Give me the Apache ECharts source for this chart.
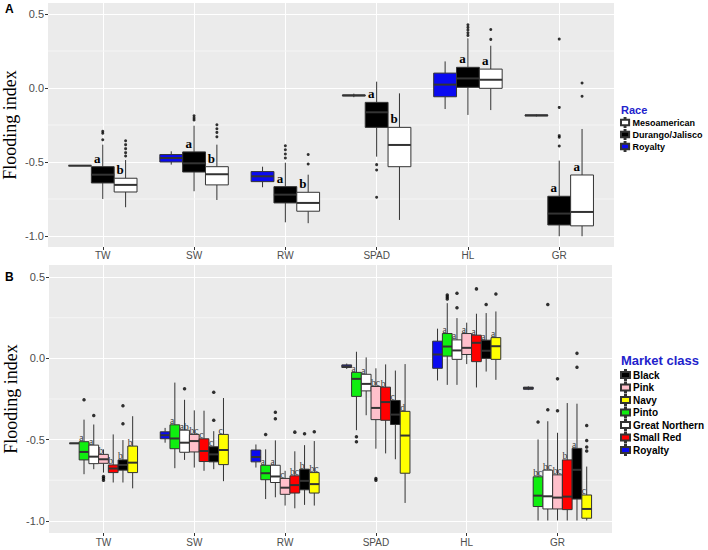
<!DOCTYPE html>
<html><head><meta charset="utf-8">
<script src="https://cdn.jsdelivr.net/npm/echarts@6/dist/echarts.min.js"></script>
<style>html,body{margin:0;padding:0;background:#fff}#main{width:708px;height:550px}</style>
</head><body><div id="main"></div>
<script>
// ---------- shared axes ----------
const categories = ['TW', 'SW', 'RW', 'SPAD', 'HL', 'GR'];
const yTickValues = [-1.0, -0.5, 0.0, 0.5];
const yMinorValues = [-0.75, -0.25, 0.25];

// ---------- Panel A (Race) : [lowerWhisker, Q1, median, Q3, upperWhisker] ----------
const raceNames = ['Royalty', 'Durango/Jalisco', 'Mesoamerican'];
const raceLegendOrder = ['Mesoamerican', 'Durango/Jalisco', 'Royalty'];
const royaltyA = [
  [-0.525, -0.525, -0.525, -0.525, -0.525],
  [-0.518, -0.500, -0.473, -0.450, -0.428],
  [-0.671, -0.633, -0.597, -0.565, -0.532],
  [-0.062, -0.053, -0.050, -0.047, -0.038],
  [-0.142, -0.059, 0.023, 0.101, 0.180],
  [-0.192, -0.188, -0.185, -0.182, -0.178]
];
const durangoA = [
  [-0.750, -0.642, -0.586, -0.532, -0.383],
  [-0.698, -0.568, -0.509, -0.432, -0.255],
  [-0.908, -0.777, -0.721, -0.667, -0.505],
  [-0.464, -0.266, -0.164, -0.097, 0.043],
  [-0.182, 0.005, 0.065, 0.140, 0.336],
  [-1.002, -0.926, -0.849, -0.732, -0.491]
];
const mesoA = [
  [-0.806, -0.703, -0.655, -0.610, -0.487],
  [-0.757, -0.655, -0.583, -0.532, -0.383],
  [-0.914, -0.833, -0.777, -0.705, -0.586],
  [-0.892, -0.532, -0.385, -0.266, -0.036],
  [-0.149, -0.002, 0.056, 0.128, 0.286],
  [-1.002, -0.932, -0.838, -0.588, -0.277]
];
const royaltyAOut = [[], [], [], [], [], []];
const durangoAOut = [
  [-0.293, -0.306, -0.350],
  [-0.187, -0.203, -0.216],
  [-0.390, -0.417, -0.446, -0.473],
  [-0.518, -0.554, -0.739],
  [0.428, 0.410, 0.392, 0.374, 0.356],
  [0.331, -0.131, -0.322, -0.333, -0.392]
];
const mesoAOut = [
  [-0.356, -0.383, -0.410, -0.437, -0.460],
  [-0.248, -0.275, -0.300, -0.330],
  [-0.450, -0.514],
  [],
  [0.396, 0.329],
  [0.034, -0.056]
];
const royaltyALetters = ['', '', '', '', '', ''];
const durangoALetters = ['a', 'a', 'a', 'a', 'a', 'a'];
const mesoALetters = ['b', 'b', 'b', 'b', 'a', 'a'];

// ---------- Panel B (Market class) ----------
const classNames = ['Royalty', 'Pinto', 'Great Northern', 'Pink', 'Small Red', 'Black', 'Navy'];
const classLegendOrder = ['Black', 'Pink', 'Navy', 'Pinto', 'Great Northern', 'Small Red', 'Royalty'];
const royaltyB = [
  [-0.523, -0.523, -0.523, -0.523, -0.523],
  [-0.519, -0.495, -0.473, -0.452, -0.428],
  [-0.672, -0.637, -0.607, -0.564, -0.530],
  [-0.065, -0.056, -0.049, -0.040, -0.032],
  [-0.136, -0.061, 0.024, 0.106, 0.183],
  [-0.195, -0.190, -0.183, -0.177, -0.172]
];
const pintoB = [
  [-0.713, -0.625, -0.576, -0.513, -0.377],
  [-0.676, -0.556, -0.493, -0.409, -0.149],
  [-0.866, -0.747, -0.707, -0.658, -0.560],
  [-0.442, -0.234, -0.126, -0.086, 0.041],
  [-0.163, 0.014, 0.073, 0.153, 0.340],
  [-0.998, -0.912, -0.845, -0.729, -0.499]
];
const greatNorthernB = [
  [-0.682, -0.648, -0.605, -0.534, -0.407],
  [-0.625, -0.578, -0.519, -0.442, -0.255],
  [-0.855, -0.764, -0.727, -0.658, -0.505],
  [-0.350, -0.200, -0.157, -0.098, 0.006],
  [-0.163, -0.006, 0.049, 0.114, 0.248],
  [-0.998, -0.927, -0.849, -0.688, -0.387]
];
const pinkB = [
  [-0.703, -0.646, -0.621, -0.591, -0.560],
  [-0.672, -0.576, -0.509, -0.468, -0.320],
  [-0.906, -0.837, -0.796, -0.739, -0.692],
  [-0.556, -0.377, -0.305, -0.173, -0.061],
  [-0.035, 0.024, 0.065, 0.153, 0.220],
  [-0.998, -0.927, -0.857, -0.717, -0.458]
];
const smallRedB = [
  [-0.764, -0.703, -0.678, -0.656, -0.468],
  [-0.692, -0.635, -0.570, -0.495, -0.322],
  [-0.923, -0.829, -0.780, -0.723, -0.572],
  [-0.585, -0.381, -0.269, -0.177, -0.037],
  [-0.179, -0.020, 0.096, 0.143, 0.275],
  [-0.998, -0.931, -0.851, -0.625, -0.275]
];
const blackB = [
  [-0.764, -0.688, -0.656, -0.625, -0.503],
  [-0.682, -0.637, -0.591, -0.544, -0.448],
  [-0.902, -0.809, -0.754, -0.682, -0.534],
  [-0.621, -0.407, -0.346, -0.259, -0.075],
  [-0.081, 0.000, 0.047, 0.112, 0.279],
  [-0.998, -0.866, -0.686, -0.554, -0.279]
];
const navyB = [
  [-0.800, -0.703, -0.642, -0.540, -0.356],
  [-0.756, -0.654, -0.564, -0.468, -0.244],
  [-0.906, -0.829, -0.774, -0.703, -0.509],
  [-0.890, -0.707, -0.475, -0.326, -0.035],
  [-0.132, -0.006, 0.075, 0.128, 0.289],
  [-0.998, -0.984, -0.927, -0.841, -0.666]
];
const royaltyBOut = [[], [], [], [], [], []];
const pintoBOut = [[-0.255], [], [-0.468], [-0.483, -0.513], [0.390, 0.378, 0.366], [-0.391]];
const greatNorthernBOut = [[-0.352], [-0.187], [-0.332, -0.371], [], [0.401, 0.312], [-0.316, 0.332]];
const pinkBOut = [[-0.727, -0.738, -0.750], [], [], [-0.739, -0.750], [], [-0.126, -0.322]];
const smallRedBOut = [[], [], [-0.454], [], [0.428], []];
const blackBOut = [[-0.291, -0.403], [-0.208, -0.381], [-0.464], [], [0.332], [0.031, -0.055]];
const navyBOut = [[], [], [-0.452], [], [0.397], [-0.413, -0.505, -0.546, -0.570]];
const royaltyBLetters = ['', '', '', '', '', ''];
const pintoBLetters = ['a', 'a', 'a', 'a', 'a', 'bc'];
const greatNorthernBLetters = ['a', 'ab', 'a', 'a', 'a', 'bc'];
const pinkBLetters = ['b', 'bc', 'c', 'bc', 'a', 'bc'];
const smallRedBLetters = ['b', 'c', 'bc', 'b', 'a', 'b'];
const blackBLetters = ['b', 'c', 'b', 'c', 'a', 'a'];
const navyBLetters = ['b', 'c', 'bc', 'd', 'a', 'c'];

// ---------- styles ----------
const fillA = { 'Royalty': '#0a0af0', 'Durango/Jalisco': '#000000', 'Mesoamerican': '#ffffff' };
const fillB = { 'Royalty': '#0a0af0', 'Pinto': '#10ee10', 'Great Northern': '#ffffff', 'Pink': '#ffc0cb',
  'Small Red': '#ff0000', 'Black': '#000000', 'Navy': '#ffff00' };
const LINE = '#333333';
const FONT = '"Liberation Sans", Arial, sans-serif';
const SERIF = '"Liberation Serif", "Times New Roman", serif';

function boxSeries(panel, name, stats, letters, slot, nSlots, fill, letterStyle) {
  const slotW = 0.75 / nSlots;
  const offset = (slot - (nSlots - 1) / 2) * slotW;
  return {
    type: 'custom', name: name, xAxisIndex: panel, yAxisIndex: panel, z: 3,
    itemStyle: { color: fill, borderColor: LINE, borderWidth: 1 },
    encode: { x: 0, y: [1, 2, 3, 4, 5] },
    data: stats.map((s, i) => [i].concat(s)),
    renderItem: function (params, api) {
      const x = api.value(0) + offset;
      const lw = api.value(1), q1 = api.value(2), med = api.value(3), q3 = api.value(4), hw = api.value(5);
      const left = api.coord([x - slotW / 2, q3]);
      const right = api.coord([x + slotW / 2, q1]);
      const cx = api.coord([x, med])[0];
      const yMed = api.coord([x, med])[1];
      const yLw = api.coord([x, lw])[1], yHw = api.coord([x, hw])[1];
      const h = Math.max(right[1] - left[1], 0);
      const children = [
        { type: 'line', shape: { x1: cx, y1: yHw, x2: cx, y2: left[1] }, style: { stroke: LINE, lineWidth: 1 } },
        { type: 'line', shape: { x1: cx, y1: right[1], x2: cx, y2: yLw }, style: { stroke: LINE, lineWidth: 1 } },
        { type: 'rect', shape: { x: left[0], y: left[1], width: right[0] - left[0], height: h },
          style: { fill: fill, stroke: LINE, lineWidth: 1 } },
        { type: 'line', shape: { x1: left[0], y1: yMed, x2: right[0], y2: yMed }, style: { stroke: LINE, lineWidth: 2 } }
      ];
      const txt = letters[params.dataIndex];
      if (txt) {
        children.push({
          type: 'text', x: left[0] + letterStyle.dx, y: left[1] + letterStyle.dy,
          style: { text: txt, fill: letterStyle.color, fontSize: letterStyle.size, fontWeight: letterStyle.weight,
            fontFamily: SERIF, align: letterStyle.align, verticalAlign: 'bottom' }
        });
      }
      return { type: 'group', children: children };
    }
  };
}

function outlierData(outs, slot, nSlots) {
  const slotW = 0.75 / nSlots;
  const offset = (slot - (nSlots - 1) / 2) * slotW;
  const d = [];
  outs.forEach((list, i) => list.forEach(v => d.push([i + offset, v])));
  return d;
}

const seriesA = [[royaltyA, royaltyAOut, royaltyALetters], [durangoA, durangoAOut, durangoALetters], [mesoA, mesoAOut, mesoALetters]];
const seriesB = [[royaltyB, royaltyBOut, royaltyBLetters], [pintoB, pintoBOut, pintoBLetters],
  [greatNorthernB, greatNorthernBOut, greatNorthernBLetters], [pinkB, pinkBOut, pinkBLetters],
  [smallRedB, smallRedBOut, smallRedBLetters], [blackB, blackBOut, blackBLetters], [navyB, navyBOut, navyBLetters]];

const letterA = { dx: 6, dy: -2, size: 13, weight: 'bold', color: '#000', align: 'center' };
const letterB = { dx: 0, dy: 1.5, size: 9.5, weight: 'normal', color: '#333', align: 'left' };

const series = [];
// minor grid lines (thin white), drawn along the y scale
[0, 1].forEach(p => {
  series.push({
    type: 'custom', name: 'minor' + p, xAxisIndex: p, yAxisIndex: p, silent: true, z: 1,
    encode: { y: 0 },
    data: yMinorValues.map(v => [v]),
    renderItem: function (params, api) {
      const a = api.coord([-0.6, api.value(0)]);
      const b = api.coord([5.6, api.value(0)]);
      return { type: 'line', shape: { x1: a[0], y1: a[1], x2: b[0], y2: b[1] },
        style: { stroke: '#f5f5f5', lineWidth: 1 } };
    }
  });
});
seriesA.forEach((s, k) => {
  series.push(boxSeries(0, raceNames[k], s[0], s[2], k, 3, fillA[raceNames[k]], letterA));
});
seriesB.forEach((s, k) => {
  series.push(boxSeries(1, classNames[k], s[0], s[2], k, 7, fillB[classNames[k]], letterB));
});
series.push({
  type: 'scatter', name: 'outA', xAxisIndex: 0, yAxisIndex: 0, symbolSize: 3, z: 4,
  itemStyle: { color: '#000' },
  data: [].concat(...seriesA.map((s, k) => outlierData(s[1], k, 3)))
});
series.push({
  type: 'scatter', name: 'outB', xAxisIndex: 1, yAxisIndex: 1, symbolSize: 3.5, z: 4,
  itemStyle: { color: '#000' },
  data: [].concat(...seriesB.map((s, k) => outlierData(s[1], k, 7)))
});

function xAxisFor(p, margin) {
  return {
    type: 'value', gridIndex: p, min: -0.6, max: 5.6,
    axisLine: { show: false, onZero: false },
    axisTick: { show: true, length: 3, lineStyle: { color: '#333' }, customValues: [0, 1, 2, 3, 4, 5] },
    axisLabel: { customValues: [0, 1, 2, 3, 4, 5], formatter: v => categories[Math.round(v)],
      color: '#4d4d4d', fontSize: 10, fontFamily: FONT, margin: margin },
    splitLine: { show: true, lineStyle: { color: '#ffffff', width: 1 } }
  };
}
function yAxisFor(p) {
  return {
    type: 'value', gridIndex: p, min: -1.075, max: 0.575,
    name: 'Flooding index', nameLocation: 'middle', nameGap: 29, nameMoveOverlap: false,
    nameTextStyle: { fontFamily: SERIF, fontSize: 18, color: '#000' },
    axisLine: { show: false, onZero: false },
    axisTick: { show: true, length: 3, lineStyle: { color: '#333' }, customValues: yTickValues },
    axisLabel: { customValues: yTickValues, formatter: v => v.toFixed(1), color: '#4d4d4d', fontSize: 11,
      fontFamily: FONT, margin: 4 },
    splitLine: { show: true, lineStyle: { color: '#ffffff', width: 1 } }
  };
}

const legendIcon = 'path://M4,0h1v2h4v6h-4v2h-1v-2h-4v-6h4z';

const option = {
  animation: false,
  backgroundColor: '#ffffff',
  title: [
    { text: 'A', left: 5, top: 3, padding: 0, textStyle: { fontSize: 12, fontWeight: 'bold', fontFamily: FONT, color: '#000' } },
    { text: 'B', left: 5, top: 271, padding: 0, textStyle: { fontSize: 12, fontWeight: 'bold', fontFamily: FONT, color: '#000' } },
    { text: 'Race', left: 621, top: 104, padding: 0, textStyle: { fontSize: 11, fontWeight: 'bold', fontFamily: FONT, color: '#2222cc' } },
    { text: 'Market class', left: 621, top: 354, padding: 0, textStyle: { fontSize: 13, fontWeight: 'bold', fontFamily: FONT, color: '#2222cc' } }
  ],
  legend: [
    { data: raceLegendOrder, orient: 'vertical', left: 620, top: 117, padding: 0, itemGap: 1,
      itemWidth: 9, itemHeight: 9, icon: legendIcon, selectedMode: false,
      textStyle: { fontSize: 9, fontWeight: 'bold', fontFamily: FONT, color: '#000', padding: [0, 0, 0, -2] } },
    { data: classLegendOrder, orient: 'vertical', left: 620, top: 369, padding: 0, itemGap: 0.5,
      itemWidth: 9, itemHeight: 10, icon: legendIcon, selectedMode: false,
      textStyle: { fontSize: 10, fontWeight: 'bold', fontFamily: FONT, color: '#000', padding: [0, 0, 0, -2] } }
  ],
  grid: [
    { left: 48, top: 3, width: 566, height: 244, show: true, backgroundColor: '#ebebeb', borderWidth: 0,
      containLabel: false, outerBoundsMode: 'none' },
    { left: 49, top: 265, width: 563, height: 268, show: true, backgroundColor: '#ebebeb', borderWidth: 0,
      containLabel: false, outerBoundsMode: 'none' }
  ],
  xAxis: [xAxisFor(0, 3), xAxisFor(1, 4)],
  yAxis: [yAxisFor(0), yAxisFor(1)],
  series: series
};

const chart = echarts.init(document.getElementById('main'), null, { renderer: 'svg' });
chart.setOption(option);
</script>
</body></html>
